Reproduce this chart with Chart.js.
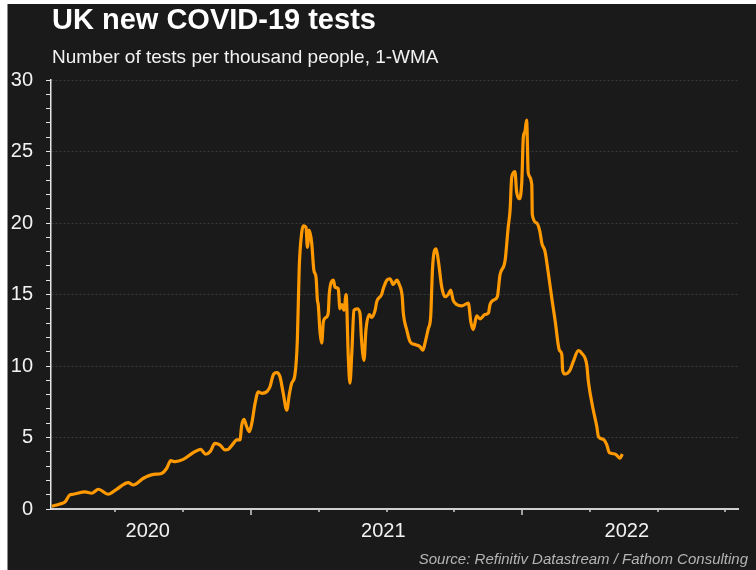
<!doctype html>
<html lang="en">
<head>
<meta charset="utf-8">
<title>UK new COVID-19 tests</title>
<style>
  * { margin: 0; padding: 0; }
  body {
    width: 756px;
    height: 570px;
    background: #fff;
    position: relative;
    overflow: hidden;
    font-family: 'Liberation Sans', Arial, sans-serif;
  }
  .panel {
    position: absolute;
    left: 7px; top: 4px; right: 0; bottom: 0;
    background: #1a1a1a;
    border-left: 1px solid #8c8c8c;
  }
  .title {
    position: absolute; left: 52px; top: 5px;
    font-size: 29px; font-weight: bold; color: #fff;
    line-height: 1; white-space: nowrap;
  }
  .subtitle {
    position: absolute; left: 52px; top: 47px;
    font-size: 19px; color: #f2f2f2;
    line-height: 1; white-space: nowrap;
  }
  .source {
    position: absolute; right: 8px; top: 551px;
    font-size: 15px; font-style: italic; color: #b4b4b4;
    line-height: 1; white-space: nowrap;
  }
  canvas { position: absolute; left: 0; top: 0; }
</style>
</head>
<body>
  <div class="panel"></div>
  <canvas id="myChart" width="756" height="570"></canvas>
  <div class="title">UK new COVID-19 tests</div>
  <div class="subtitle">Number of tests per thousand people, 1-WMA</div>
  <div class="source">Source: Refinitiv Datastream / Fathom Consulting</div>

  <script src="https://cdn.jsdelivr.net/npm/chart.js/dist/chart.umd.min.js"></script>
  <script>
    // dates as decimal years
    const time = [
      2020.265, 2020.295, 2020.314, 2020.332, 2020.344, 2020.387, 2020.412, 2020.437,
      2020.473, 2020.504, 2020.547, 2020.566, 2020.603, 2020.640, 2020.670, 2020.689,
      2020.704, 2020.720, 2020.750, 2020.787, 2020.814, 2020.833, 2020.849, 2020.867,
      2020.886, 2020.904, 2020.916, 2020.935, 2020.947, 2020.959, 2020.966, 2020.974,
      2020.984, 2020.994, 2021.003, 2021.015, 2021.027, 2021.039, 2021.058, 2021.070,
      2021.082, 2021.095, 2021.107, 2021.119, 2021.132, 2021.141, 2021.150, 2021.162,
      2021.171, 2021.178, 2021.187, 2021.193, 2021.203, 2021.208, 2021.215, 2021.224,
      2021.232, 2021.240, 2021.245, 2021.248, 2021.255, 2021.261, 2021.267, 2021.277,
      2021.285, 2021.289, 2021.304, 2021.310, 2021.322, 2021.328, 2021.335, 2021.343,
      2021.351, 2021.359, 2021.365, 2021.372, 2021.380, 2021.392, 2021.402, 2021.408,
      2021.417, 2021.424, 2021.437, 2021.445, 2021.458, 2021.464, 2021.482, 2021.488,
      2021.501, 2021.513, 2021.525, 2021.538, 2021.547, 2021.558, 2021.562, 2021.575,
      2021.587, 2021.605, 2021.624, 2021.634, 2021.642, 2021.654, 2021.663, 2021.670,
      2021.683, 2021.691, 2021.704, 2021.716, 2021.728, 2021.737, 2021.746, 2021.759,
      2021.777, 2021.802, 2021.811, 2021.820, 2021.833, 2021.845, 2021.863, 2021.876,
      2021.882, 2021.894, 2021.909, 2021.919, 2021.937, 2021.949, 2021.956, 2021.962,
      2021.974, 2021.980, 2021.990, 2021.999, 2022.005, 2022.011, 2022.017, 2022.023,
      2022.036, 2022.038, 2022.054, 2022.066, 2022.073, 2022.085, 2022.097, 2022.111,
      2022.122, 2022.138, 2022.147, 2022.150, 2022.159, 2022.177, 2022.189, 2022.208,
      2022.220, 2022.239, 2022.245, 2022.263, 2022.276, 2022.282, 2022.300, 2022.313,
      2022.322, 2022.343, 2022.352, 2022.362, 2022.370
    ];
    // new tests per thousand people
    const tests = [
      0.2, 0.35, 0.5, 1.0, 1.03, 1.2, 1.1, 1.38,
      1.03, 1.38, 1.84, 1.68, 2.15, 2.42, 2.49, 2.85,
      3.38, 3.31, 3.47, 3.94, 4.17, 3.83, 4.01, 4.59,
      4.47, 4.13, 4.17, 4.59, 4.83, 4.83, 5.87, 6.27,
      5.76, 5.41, 6.0, 7.39, 8.2, 8.09, 8.2, 8.55,
      9.37, 9.53, 9.25, 8.09, 6.92, 7.97, 8.79, 9.37,
      11.8, 16.9, 19.3, 19.8, 19.7, 18.3, 19.5, 18.6,
      16.7, 16.2, 14.6, 14.3, 12.3, 11.6, 13.1, 13.4,
      13.7, 15.1, 16.0, 15.5, 15.4, 14.0, 14.3, 13.9,
      15.0, 10.65, 8.8, 10.9, 13.9, 14.0, 13.7, 11.8,
      10.4, 12.5, 13.6, 13.4, 13.9, 14.5, 15.0, 15.4,
      16.0, 16.1, 15.7, 16.0, 15.7, 14.85, 13.7, 12.5,
      11.7, 11.5, 11.35, 11.1, 11.6, 12.6, 13.45, 16.9,
      18.2, 17.4, 15.5, 14.85, 15.0, 15.3, 14.6, 14.3,
      14.2, 14.4, 13.1, 12.55, 13.5, 13.3, 13.6, 13.7,
      14.3, 14.6, 14.85, 16.4, 17.3, 19.7, 20.9, 23.2,
      23.6, 22.2, 21.7, 22.8, 26.0, 26.4, 27.2, 23.5,
      22.7, 20.6, 20.0, 19.4, 18.6, 18.0, 16.5, 14.6,
      13.2, 11.1, 10.8, 9.7, 9.44, 9.7, 10.3, 11.07,
      10.9, 10.07, 8.9, 6.92, 5.76, 5.06, 4.87, 4.48,
      3.94, 3.85, 3.71, 3.55, 3.85
    ];

    const yTicks = [0, 5, 10, 15, 20, 25, 30];
    const years = [2020, 2021, 2022];
    const xMin = 2020.262;
    const xMax = 2022.797;

    // year labels sit in the middle of the visible part of each year
    const yearLabelAt = {};
    years.forEach(y => {
      const mid = (Math.max(xMin, y) + Math.min(xMax, y + 1)) / 2 - 0.012;
      yearLabelAt[mid.toFixed(4)] = String(y);
    });

    const points = time.map((t, i) => ({x: t, y: tests[i]}));

    const xTickMarks = {
      id: 'xTickMarks',
      afterDraw(chart) {
        const xs = chart.scales.x;
        const ctx = chart.ctx;
        ctx.save();
        ctx.strokeStyle = '#d0d0d0';
        ctx.lineWidth = 1.5;
        for (let q = Math.ceil(xs.min * 4); q / 4 <= xs.max; q++) {
          const px = Math.round(xs.getPixelForValue(q / 4));
          const len = q % 4 === 0 ? 6 : 3;
          ctx.beginPath();
          ctx.moveTo(px, xs.top);
          ctx.lineTo(px, xs.top + len);
          ctx.stroke();
        }
        ctx.restore();
      }
    };

    const ctx = document.getElementById('myChart');
    const myChart = new Chart(ctx, {
      type: 'line',
      data: {
        datasets: [{
          label: 'UK new COVID-19 tests',
          data: points,
          borderColor: '#ff9900',
          borderWidth: 3.2,
          pointRadius: 0,
          cubicInterpolationMode: 'monotone',
          fill: false
        }]
      },
      options: {
        responsive: false,
        animation: false,
        layout: { padding: { top: 80, right: 18, bottom: 21, left: 0 } },
        plugins: {
          legend: { display: false },
          tooltip: { enabled: false }
        },
        scales: {
          x: {
            type: 'linear',
            min: xMin,
            max: xMax,
            afterFit: s => { s.height = 40; },
            afterBuildTicks: s => {
              const ticks = Object.keys(yearLabelAt).map(v => ({value: parseFloat(v)}));
              ticks.sort((a, b) => a.value - b.value);
              s.ticks = ticks;
            },
            grid: { display: false },
            border: { color: '#d0d0d0', width: 2 },
            ticks: {
              autoSkip: false,
              maxRotation: 0,
              padding: 2,
              color: '#f2f2f2',
              font: { family: 'Liberation Sans', size: 20 },
              callback: v => yearLabelAt[Number(v).toFixed(4)] || ''
            }
          },
          y: {
            min: 0,
            max: 30,
            afterFit: s => { s.width = 51; },
            afterBuildTicks: s => {
              const ticks = [];
              for (let v = 0; v <= 30; v++) ticks.push({value: v});
              s.ticks = ticks;
            },
            grid: {
              color: c => (c.tick && c.tick.value > 0 && yTicks.includes(c.tick.value)) ? '#343b3b' : 'rgba(0,0,0,0)',
              lineWidth: 1,
              tickLength: 5,
              tickColor: '#e6e6e6',
              tickWidth: 1
            },
            border: { color: '#e6e6e6', width: 1.5, dash: [2, 2] },
            ticks: {
              autoSkip: false,
              padding: 13,
              color: '#f2f2f2',
              font: { family: 'Liberation Sans', size: 20 },
              callback: v => yTicks.includes(v) ? String(v) : ''
            }
          }
        }
      },
      plugins: [xTickMarks]
    });
  </script>
</body>
</html>
